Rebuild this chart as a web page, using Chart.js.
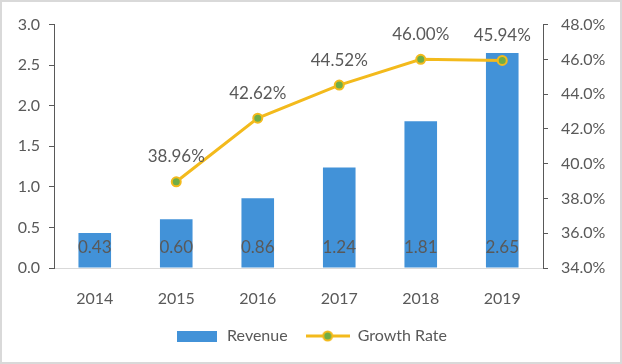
<!DOCTYPE html>
<html>
<head>
<meta charset="utf-8">
<script src="https://cdn.jsdelivr.net/npm/chart.js@4"></script>
<style>
  body { margin: 0; background: #fff; }
  #wrap { width: 618px; height: 360px; border: 2px solid #d9d9d9; position: relative; }
</style>
</head>
<body>
<div id="wrap"><canvas id="revChart"></canvas></div>
<script>
// data
const years = ['2014', '2015', '2016', '2017', '2018', '2019'];
const revenue = [0.43, 0.60, 0.86, 1.24, 1.81, 2.65];
const growthRate = [null, 38.96, 42.62, 44.52, 46.00, 45.94];

const barColor = '#4292d8';
const lineColor = '#f3ba1c';
const dotColor = '#70ad47';
const textColor = '#595959';
const fontFamily = 'Lato, "Noto Sans", sans-serif';

// legend swatches
function makeBox() {
    let c = document.createElement('canvas');
    c.width = 40; c.height = 11;
    let g = c.getContext('2d');
    g.fillStyle = barColor;
    g.fillRect(0, 0, 40, 11);
    return c;
}
function makeLineDot() {
    let c = document.createElement('canvas');
    c.width = 44; c.height = 14;
    let g = c.getContext('2d');
    g.strokeStyle = lineColor;
    g.lineWidth = 3;
    g.beginPath(); g.moveTo(0, 7); g.lineTo(44, 7); g.stroke();
    g.fillStyle = dotColor;
    g.lineWidth = 2;
    g.beginPath(); g.arc(22, 7, 4.5, 0, Math.PI * 2); g.fill(); g.stroke();
    return c;
}

// value labels
const valueLabels = {
    id: 'valueLabels',
    afterDatasetsDraw(chart) {
        let ctx = chart.ctx;
        ctx.save();
        ctx.fillStyle = textColor;
        ctx.font = '17px ' + fontFamily;
        ctx.textAlign = 'center';
        ctx.textBaseline = 'middle';
        chart.getDatasetMeta(0).data.forEach((bar, i) => {
            ctx.fillText(revenue[i].toFixed(2), bar.x, bar.base - 20);
        });
        chart.getDatasetMeta(1).data.forEach((pt, i) => {
            if (growthRate[i] == null) return;
            ctx.fillText(growthRate[i].toFixed(2) + '%', pt.x, pt.y - 25);
        });
        ctx.restore();
    }
};

let ctx = document.getElementById('revChart').getContext('2d');
let chart = new Chart(ctx, {
    type: 'bar',
    data: {
        labels: years,
        datasets: [{
            type: 'bar',
            label: 'Revenue',
            data: revenue,
            backgroundColor: barColor,
            yAxisID: 'y',
            order: 1,
            categoryPercentage: 1,
            barPercentage: 0.4,
            pointStyle: makeBox()
        }, {
            type: 'line',
            label: 'Growth Rate',
            data: growthRate,
            borderColor: lineColor,
            borderWidth: 3,
            pointRadius: 4.5,
            pointBorderWidth: 2,
            pointBackgroundColor: dotColor,
            pointBorderColor: lineColor,
            yAxisID: 'y1',
            order: 0,
            pointStyle: 'circle',
            legendStyle: makeLineDot()
        }]
    },
    options: {
        responsive: true,
        maintainAspectRatio: false,
        animation: false,
        layout: { padding: { top: 21, bottom: 8 } },
        scales: {
            x: {
                grid: { display: false },
                border: { color: '#d9d9d9', width: 1 },
                ticks: { color: textColor, font: { size: 16, family: fontFamily }, padding: 13 },
                afterFit(scale) { scale.height = 42; }
            },
            y: {
                position: 'left',
                min: 0,
                max: 3,
                grid: { drawOnChartArea: false, tickLength: 5, color: textColor },
                border: { color: textColor },
                ticks: {
                    stepSize: 0.5,
                    color: textColor,
                    font: { size: 16, family: fontFamily },
                    padding: 9,
                    callback: v => v.toFixed(1)
                },
                afterFit(scale) { scale.width = 52; }
            },
            y1: {
                position: 'right',
                min: 34,
                max: 48,
                grid: { drawOnChartArea: false, tickLength: 5, color: textColor },
                border: { color: textColor },
                ticks: {
                    stepSize: 2,
                    color: textColor,
                    font: { size: 16, family: fontFamily },
                    padding: 13,
                    callback: v => v.toFixed(1) + '%'
                },
                afterFit(scale) { scale.width = 77; }
            }
        },
        plugins: {
            tooltip: { enabled: false },
            legend: {
                position: 'bottom',
                labels: {
                    color: textColor,
                    font: { size: 16, family: fontFamily },
                    usePointStyle: true,
                    pointStyleWidth: 44,
                    padding: 18,
                    generateLabels(chart) {
                        return chart.data.datasets.map((ds, i) => ({
                            text: ds.label,
                            fontColor: textColor,
                            pointStyle: ds.legendStyle || ds.pointStyle,
                            datasetIndex: i,
                            hidden: false,
                            lineWidth: 0
                        }));
                    }
                }
            }
        }
    },
    plugins: [valueLabels]
});
</script>
</body>
</html>
